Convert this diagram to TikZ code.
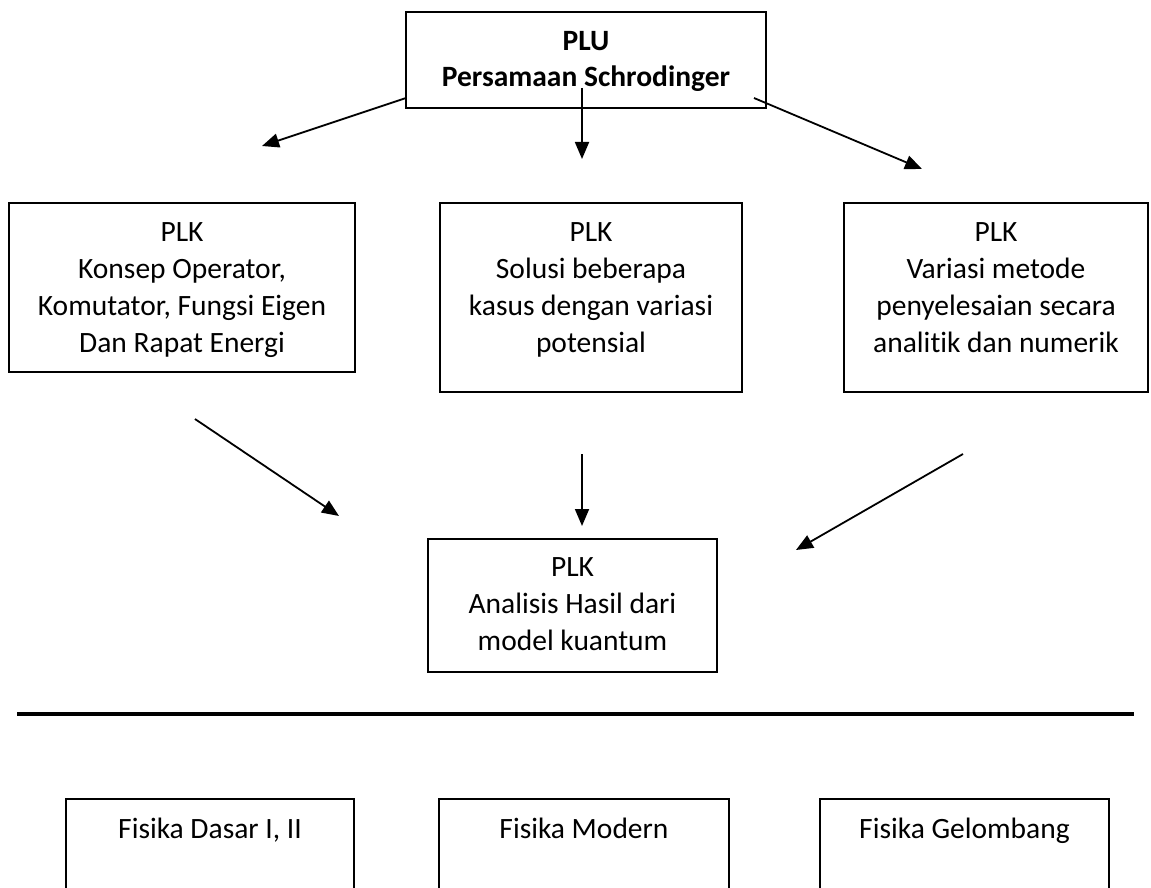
\documentclass[tikz,border=0pt]{standalone}
\usepackage{fontspec}
\setmainfont{Carlito}[Ligatures=NoCommon]
\usetikzlibrary{arrows.meta,calc}
\begin{document}
\begin{tikzpicture}[x=1pt,y=-1pt,
  box/.style={draw, line width=1.4pt, rectangle, inner sep=0pt},
  txt/.style={align=center, inner sep=0pt, anchor=base, font=\fontsize{29.5}{36.7}\selectfont},
  arr/.style={line width=1.8pt, -{Triangle[length=17pt,width=14pt]}},
  sepline/.style={line width=4pt}]
\useasboundingbox (0,0) rectangle (1151,888);
\clip (0,0) rectangle (1151,888);

% top box (anchor base = baseline of the last line)
\node[box, minimum width=360pt, minimum height=96pt] (plu) at (586,60) {};
\node[txt, font=\fontsize{29.5}{36.7}\selectfont\bfseries] (plut) at (586,87) {PLU\\Persamaan Schrodinger};

% second row
\node[box, minimum width=346pt, minimum height=169pt] (k1) at (182,287.5) {};
\node[txt] (k1t) at (182,352) {PLK\\Konsep Operator,\\Komutator, Fungsi Eigen\\Dan Rapat Energi};
\node[box, minimum width=302pt, minimum height=189pt] (k2) at (591,297.5) {};
\node[txt] (k2t) at (591,352) {PLK\\Solusi beberapa\\kasus dengan variasi\\potensial};
\node[box, minimum width=304pt, minimum height=189pt] (k3) at (996,297.5) {};
\node[txt] (k3t) at (996,352) {PLK\\Variasi metode\\penyelesaian secara\\analitik dan numerik};

% result box
\node[box, minimum width=289pt, minimum height=133pt] (ah) at (572.5,605.5) {};
\node[txt] (aht) at (572.5,650) {PLK\\Analisis Hasil dari\\model kuantum};

% separator
\coordinate (hl) at (17,714);
\coordinate (hr) at (1134,714);
\draw[sepline] (hl) -- (hr);

% prerequisite boxes
\node[box, minimum width=288pt, minimum height=151pt] (f1) at (210,874.5) {};
\node[txt] (f1t) at (210,838) {Fisika Dasar I, II};
\node[box, minimum width=290pt, minimum height=151pt] (f2) at (584,874.5) {};
\node[txt] (f2t) at (584,838) {Fisika Modern};
\node[box, minimum width=289pt, minimum height=151pt] (f3) at (964.5,874.5) {};
\node[txt] (f3t) at (964.5,838) {Fisika Gelombang};

% arrow end points
\coordinate (a1s) at (406,98);   \coordinate (a1e) at (262,146);
\coordinate (a2s) at (582,88);   \coordinate (a2e) at (582,159);
\coordinate (a3s) at (754,98);   \coordinate (a3e) at (922,169);
\coordinate (a4s) at (195,419);  \coordinate (a4e) at (339,516);
\coordinate (a5s) at (582,454);  \coordinate (a5e) at (582,526);
\coordinate (a6s) at (963,454);  \coordinate (a6e) at (796,550);

\draw[arr] (a1s) -- (a1e);
\draw[arr] (a2s) -- (a2e);
\draw[arr] (a3s) -- (a3e);
\draw[arr] (a4s) -- (a4e);
\draw[arr] (a5s) -- (a5e);
\draw[arr] (a6s) -- (a6e);
\end{tikzpicture}
\end{document}
